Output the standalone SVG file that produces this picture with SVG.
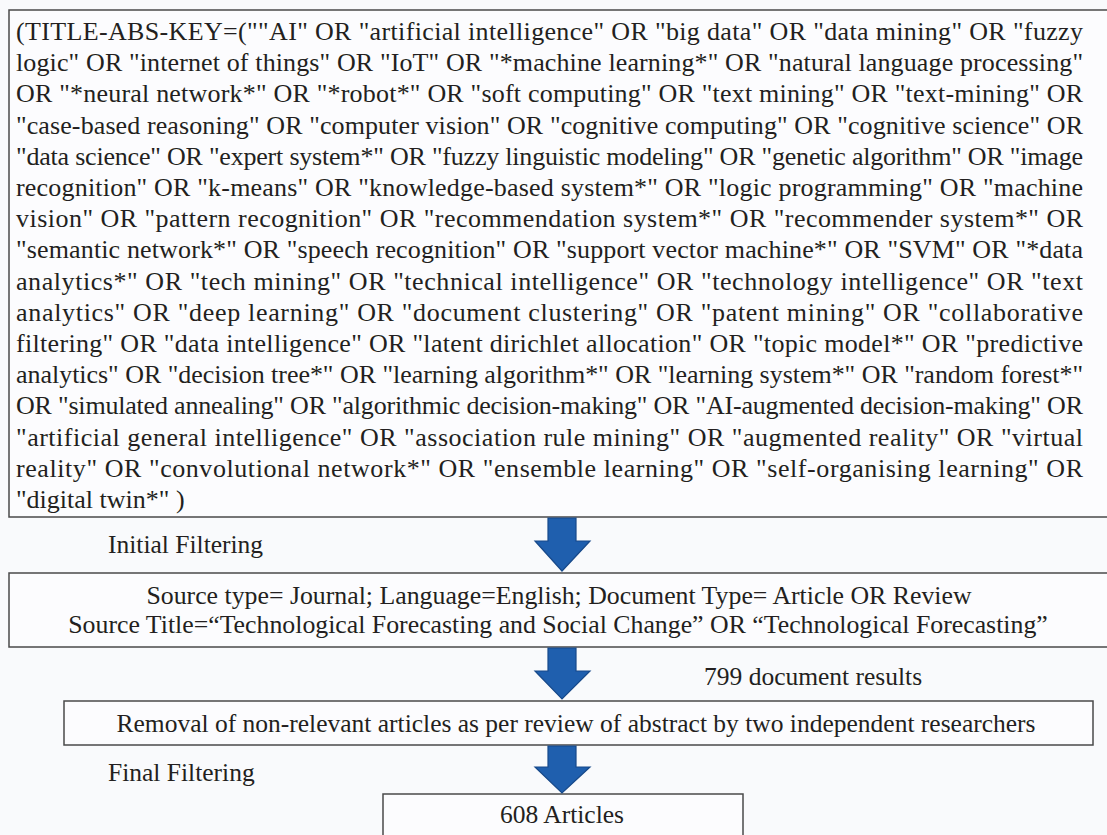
<svg xmlns="http://www.w3.org/2000/svg" width="1107" height="835" viewBox="0 0 1107 835">
<style>
.box{fill:#fcfcfe;stroke:#4a4a4a;stroke-width:1.5}
.t{font-family:"Liberation Serif","Times New Roman",serif;font-size:26px;fill:#231f20}
.s{font-family:"Liberation Serif","Times New Roman",serif;font-size:25.5px;fill:#231f20}
.src{font-family:"Liberation Serif","Times New Roman",serif;font-size:25.8px;fill:#231f20}
.arr{fill:#1f5fae;stroke:#17498a;stroke-width:1.2}
</style>
<rect x="0" y="0" width="1107" height="835" fill="#f9fafc"/>
<g id="query">
<rect class="box" x="9" y="10" width="1110" height="507"/>
<text class="t" x="16" y="40" textLength="1067" lengthAdjust="spacing">(TITLE-ABS-KEY=(""AI" OR "artificial intelligence" OR "big data" OR "data mining" OR "fuzzy</text>
<text class="t" x="16" y="71.2" textLength="1067" lengthAdjust="spacing">logic" OR "internet of things" OR "IoT" OR "*machine learning*" OR "natural language processing"</text>
<text class="t" x="16" y="102.4" textLength="1067" lengthAdjust="spacing">OR "*neural network*" OR "*robot*" OR "soft computing" OR "text mining" OR "text-mining" OR</text>
<text class="t" x="16" y="133.6" textLength="1067" lengthAdjust="spacing">"case-based reasoning" OR "computer vision" OR "cognitive computing" OR "cognitive science" OR</text>
<text class="t" x="16" y="164.8" textLength="1067" lengthAdjust="spacing">"data science" OR "expert system*" OR "fuzzy linguistic modeling" OR "genetic algorithm" OR  "image</text>
<text class="t" x="16" y="196" textLength="1067" lengthAdjust="spacing">recognition" OR "k-means" OR "knowledge-based system*" OR "logic programming" OR "machine</text>
<text class="t" x="16" y="227.2" textLength="1067" lengthAdjust="spacing">vision" OR "pattern recognition" OR "recommendation system*" OR "recommender system*" OR</text>
<text class="t" x="16" y="258.4" textLength="1067" lengthAdjust="spacing">"semantic network*" OR "speech recognition" OR "support vector machine*" OR "SVM" OR "*data</text>
<text class="t" x="16" y="289.6" textLength="1067" lengthAdjust="spacing">analytics*" OR "tech mining" OR "technical intelligence" OR  "technology intelligence" OR "text</text>
<text class="t" x="16" y="320.8" textLength="1067" lengthAdjust="spacing">analytics" OR "deep learning" OR "document clustering" OR "patent mining" OR "collaborative</text>
<text class="t" x="16" y="352" textLength="1067" lengthAdjust="spacing">filtering" OR "data intelligence" OR "latent dirichlet allocation" OR "topic model*" OR "predictive</text>
<text class="t" x="16" y="383.2" textLength="1067" lengthAdjust="spacing">analytics" OR "decision tree*" OR "learning algorithm*" OR "learning system*" OR "random forest*"</text>
<text class="t" x="16" y="414.4" textLength="1067" lengthAdjust="spacing">OR "simulated annealing" OR "algorithmic decision-making" OR "AI-augmented decision-making" OR</text>
<text class="t" x="16" y="445.6" textLength="1067" lengthAdjust="spacing">"artificial general intelligence" OR "association rule mining" OR "augmented reality" OR "virtual</text>
<text class="t" x="16" y="476.8" textLength="1067" lengthAdjust="spacing">reality" OR "convolutional network*" OR "ensemble learning" OR "self-organising learning" OR</text>
<text class="t" x="16" y="508">"digital twin*" )</text>
</g>
<g id="source">
<rect class="box" x="9" y="573" width="1110" height="74"/>
<text class="src" x="559" y="604" text-anchor="middle">Source type= Journal; Language=English; Document Type= Article OR Review</text>
<text class="src" x="558" y="633" text-anchor="middle">Source Title=“Technological Forecasting and Social Change” OR “Technological Forecasting”</text>
</g>
<g id="removal">
<rect class="box" x="64" y="701" width="1029" height="44"/>
<text class="s" x="576" y="732" text-anchor="middle">Removal of non-relevant articles as per review of abstract by two independent researchers</text>
</g>
<g id="articles">
<rect class="box" x="383" y="794" width="360" height="60"/>
<text class="s" x="562" y="823" text-anchor="middle">608 Articles</text>
</g>
<g id="labels">
<text class="s" x="108" y="553">Initial Filtering</text>
<text class="s" x="704" y="685">799 document results</text>
<text class="s" x="108" y="781">Final Filtering</text>
</g>
<g id="connectors">
<polygon class="arr" points="548,518 576,518 576,541 590,541 562,571 535,541 548,541"/>
<polygon class="arr" points="548,648 576,648 576,671 590,671 562,699 535,671 548,671"/>
<polygon class="arr" points="548,746 576,746 576,767 590,767 562,793 535,767 548,767"/>
</g>
</svg>
